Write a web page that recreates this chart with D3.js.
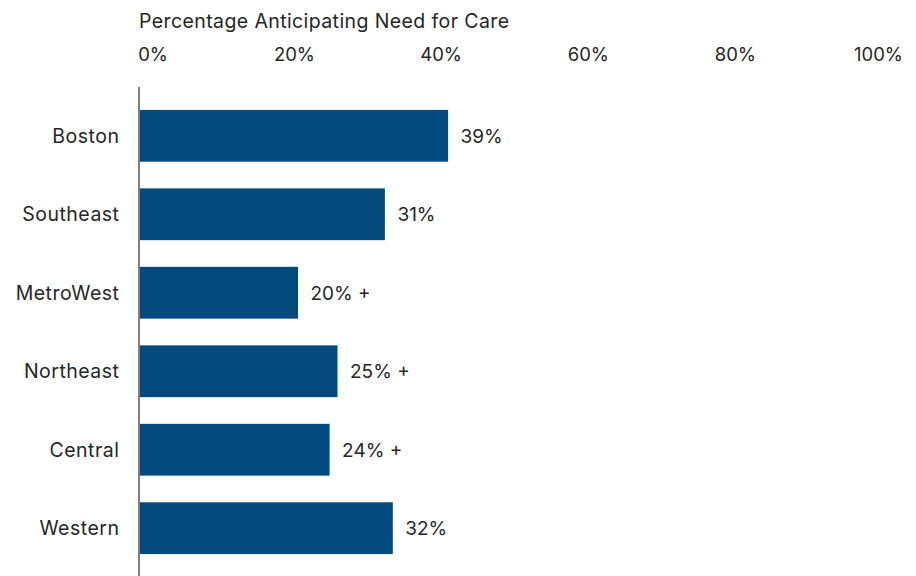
<!DOCTYPE html>
<html>
<head>
<meta charset="utf-8">
<script src="https://cdn.jsdelivr.net/npm/d3@7"></script>
<style>
  html, body { margin: 0; padding: 0; background: #fff; }
  svg { display: block; font-family: Inter, "DejaVu Sans", sans-serif; }
</style>
</head>
<body>
<svg id="chart" width="916" height="576"></svg>
<script>
// Regional shares anticipating a need for care
const regions = ["Boston", "Southeast", "MetroWest", "Northeast", "Central", "Western"];
const shares = [39, 31, 20, 25, 24, 32];
const flags = ["", "", " +", " +", " +", ""];
const tickValues = [0, 20, 40, 60, 80, 100];
const axisTitle = "Percentage Anticipating Need for Care";

const data = regions.map((r, i) => ({ region: r, value: shares[i], flag: flags[i] }));

const svg = d3.select("#chart");
const W = 916, H = 576;

const x = d3.scaleLinear().domain([0, 100]).range([140, 930]);
const xTicks = d3.scaleLinear().domain([0, 100]).range([168, 903]);
const y = d3.scaleBand().domain(regions).range([84, 580])
  .paddingInner(0.34).paddingOuter(0.33);

const textColor = "#262626";
const barColor = "#044a7f";

// axis title
svg.append("text")
  .attr("x", 139).attr("y", 28)
  .attr("fill", textColor)
  .attr("font-size", 19.5)
  .attr("letter-spacing", 0.4)
  .text(axisTitle);

// percentage scale labels across the top
svg.append("g").selectAll("text")
  .data(tickValues)
  .join("text")
  .attr("x", d => xTicks(d))
  .attr("y", 61)
  .attr("text-anchor", "end")
  .attr("fill", textColor)
  .attr("font-size", 18.5)
  .text(d => d + "%");

// bars
svg.append("g").selectAll("rect")
  .data(data)
  .join("rect")
  .attr("x", x(0))
  .attr("y", d => y(d.region))
  .attr("width", d => x(d.value) - x(0))
  .attr("height", y.bandwidth())
  .attr("fill", barColor);

// value labels
svg.append("g").selectAll("text")
  .data(data)
  .join("text")
  .attr("x", d => x(d.value) + 12.5)
  .attr("y", d => y(d.region) + y.bandwidth() / 2)
  .attr("dy", "0.36em")
  .attr("fill", textColor)
  .attr("font-size", 19)
  .text(d => d.value + "%" + d.flag);

// region labels
svg.append("g").selectAll("text")
  .data(data)
  .join("text")
  .attr("x", 119.5)
  .attr("y", d => y(d.region) + y.bandwidth() / 2)
  .attr("dy", "0.36em")
  .attr("text-anchor", "end")
  .attr("fill", textColor)
  .attr("font-size", 19.5)
  .attr("letter-spacing", 0.5)
  .text(d => d.region);

// vertical baseline
svg.append("line")
  .attr("x1", 139).attr("x2", 139)
  .attr("y1", 87).attr("y2", H)
  .attr("stroke", "#808080")
  .attr("stroke-width", 2);
</script>
</body>
</html>
